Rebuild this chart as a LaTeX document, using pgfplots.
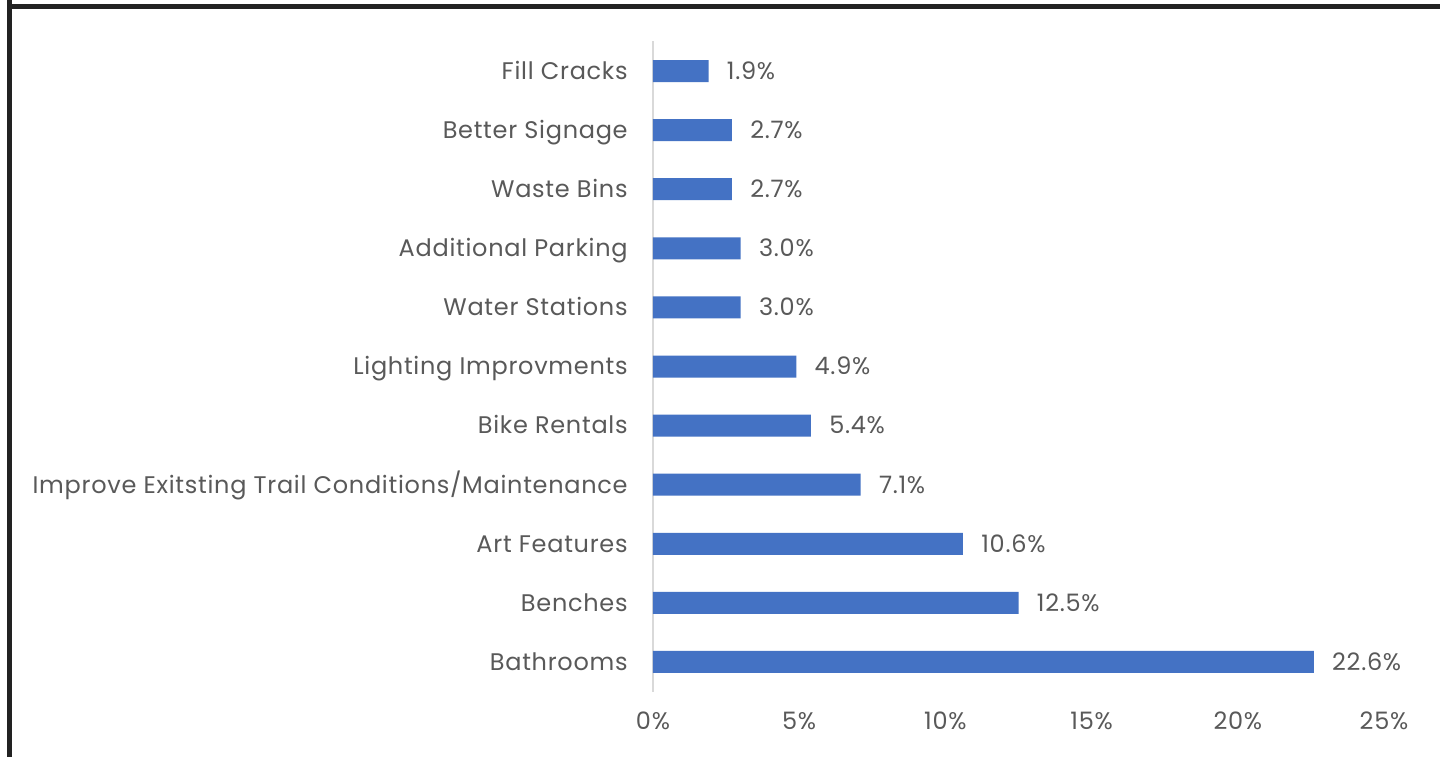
\documentclass[border=0pt]{standalone}
\usepackage{pgfplots}
\pgfplotsset{compat=1.18}
\usepackage{pgfplotstable}
\usepackage{fontspec}
\setmainfont{Poppins}[LetterSpace=3]
\definecolor{barblue}{HTML}{4472C4}
\definecolor{txtgray}{HTML}{595959}
\definecolor{axgray}{HTML}{D9D9D9}
\definecolor{frame}{HTML}{222222}
\pgfplotstableread[col sep=comma]{
y,v,lab
10,1.9,1.9\%
9,2.7,2.7\%
8,2.7,2.7\%
7,3.0,3.0\%
6,3.0,3.0\%
5,4.9,4.9\%
4,5.4,5.4\%
3,7.1,7.1\%
2,10.6,10.6\%
1,12.5,12.5\%
0,22.6,22.6\%
}\datatable
\begin{document}
\begin{tikzpicture}[x=0.5pt,y=0.5pt]
\useasboundingbox (0,0) rectangle (1440,757);
\fill[white] (0,0) rectangle (1440,757);
\fill[frame] (7,757) rectangle (12,0);
\fill[frame] (7,757-4) rectangle (1440,757-9);
\begin{axis}[
  at={(653*0.5pt,65.5*0.5pt)}, anchor=south west,
  scale only axis, width=365.5pt, height=325pt,
  xbar, bar width=11pt,
  xmin=0, xmax=25, ymin=-0.5, ymax=10.5,
  axis y line*=left, axis x line*=bottom,
  y axis line style={axgray, line width=0.6pt},
  x axis line style={draw=none},
  ytick={0,...,10},
  yticklabels={Bathrooms,Benches,Art Features,Improve Exitsting Trail Conditions/Maintenance,Bike Rentals,Lighting Improvments,Water Stations,Additional Parking,Waste Bins,Better Signage,Fill Cracks},
  xtick={0,5,10,15,20,25},
  xticklabels={0\%,5\%,10\%,15\%,20\%,25\%},
  major tick length=0pt,
  tick style={draw=none},
  y tick label style={font=\fontsize{12}{14}\selectfont, color=txtgray, anchor=base east, inner sep=0pt, xshift=-12.5pt, yshift=-4.2pt},
  x tick label style={font=\fontsize{12}{14}\selectfont, color=txtgray, anchor=base, inner sep=0pt, yshift=-19pt},
  clip=false,
  point meta=explicit symbolic,
  nodes near coords,
  nodes near coords style={font=\fontsize{12}{14}\selectfont, color=txtgray, anchor=base west, inner sep=0pt, xshift=9pt, yshift=-4.2pt},
]
\addplot[fill=barblue, draw=none] table[x=v, y=y, meta=lab] {\datatable};
\end{axis}
\end{tikzpicture}
\end{document}
